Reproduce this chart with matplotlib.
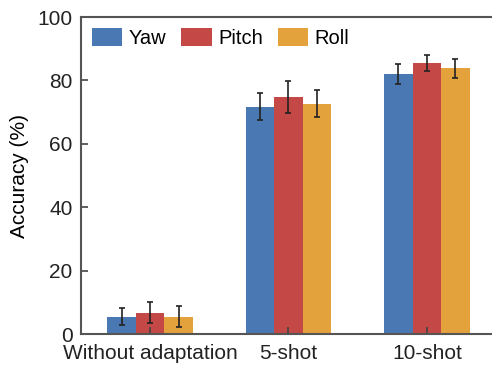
import numpy as np
import matplotlib.pyplot as plt

plt.rcParams['font.family'] = ['Liberation Sans', 'DejaVu Sans']

# data
categories = ['Without adaptation', '5-shot', '10-shot']
series = ['Yaw', 'Pitch', 'Roll']
yaw = [5.5, 71.7, 82.0]
pitch = [6.7, 74.8, 85.5]
roll = [5.5, 72.6, 83.9]
yaw_err = [2.7, 4.2, 3.2]
pitch_err = [3.3, 5.1, 2.4]
roll_err = [3.3, 4.3, 3.0]

colors = ['#4a78b3', '#c44845', '#e3a23b']

fig = plt.figure(figsize=(4.92, 3.65), dpi=100)
ax = fig.add_axes([0.1646, 0.0849, 0.8435, 0.8685])

x = np.arange(len(categories))
width = 0.207
values = [yaw, pitch, roll]
errors = [yaw_err, pitch_err, roll_err]
for i in range(len(series)):
    ax.bar(x + (i - 1) * width, values[i], width, yerr=errors[i],
           color=colors[i], label=series[i],
           error_kw=dict(ecolor='#222222', elinewidth=1.2, capsize=2, capthick=1.2))

ax.set_xlim(-0.5, 2.5)
ax.set_ylim(0, 100)
ax.set_xticks(x)
ax.set_xticklabels(categories)
ax.set_yticks(range(0, 101, 20))
ax.set_ylabel('Accuracy (%)', fontsize=15, labelpad=6)
ax.tick_params(direction='in', length=5, width=1.2, colors='#444444',
               labelcolor='#222222', labelsize=15)
ax.tick_params(axis='y', pad=6)
ax.tick_params(axis='x', pad=7)
ax.spines['right'].set_visible(False)
for s in ax.spines.values():
    s.set_color('#555555')
    s.set_linewidth(1.5)

ax.legend(loc='upper left', ncol=3, frameon=False, fontsize=14.5,
          handlelength=1.5, handleheight=1.0, handletextpad=0.32,
          columnspacing=0.75, borderaxespad=0.0, borderpad=0.55)

fig.savefig('out.png', dpi=100)
